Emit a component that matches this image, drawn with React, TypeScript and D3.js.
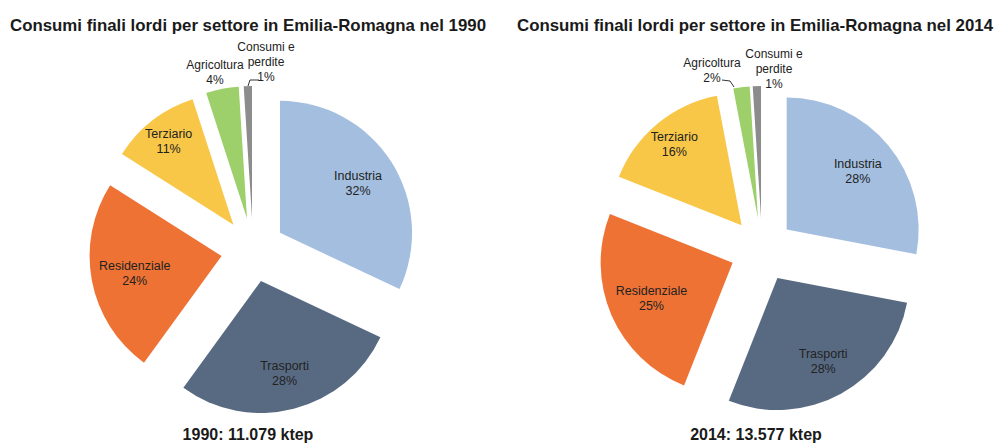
import React, { useEffect, useRef } from "react";
import * as d3 from "d3";

// Sectors and their shares (%) for each year
const sectors = ["Industria", "Trasporti", "Residenziale", "Terziario", "Agricoltura", "Consumi e perdite"];
const shares1990 = [32, 28, 24, 11, 4, 1];
const shares2014 = [28, 28, 25, 16, 2, 1];
const titles = [
  "Consumi finali lordi per settore in Emilia-Romagna nel 1990",
  "Consumi finali lordi per settore in Emilia-Romagna nel 2014",
];
const totals = ["1990: 11.079 ktep", "2014: 13.577 ktep"];
const colors = ["#A3BEDF", "#586A82", "#EE7234", "#F9C747", "#9DCF6B", "#8C8C8C"];

const FONT = "'Liberation Sans', Arial, sans-serif";

const App = () => {
  const svgRef = useRef<SVGSVGElement>(null);

  useEffect(() => {
    const width = 997;
    const height = 443;
    const radius = 132;
    const explode = 32;
    // label distance (fraction of radius) for the inside labels
    const labelK = [0.7, 0.72, 0.67, 0.8];

    const svg = d3.select(svgRef.current).attr("width", width).attr("height", height);
    svg.selectAll("*").remove();

    const charts = [
      {
        values: shares1990,
        cx: 253,
        cy: 250,
        titleX: 248,
        totalX: 248,
        // outside labels: offsets from the pie center
        agri: { x: -38, y: -185, leader: null as null | number[][] },
        cons: { x: 13, y: -203, leader: [[6, -170], [-3, -170], [-5, -164]] },
      },
      {
        values: shares2014,
        cx: 762,
        cy: 250,
        titleX: 755,
        totalX: 756,
        agri: { x: -50, y: -187, leader: [[-40, -170], [-32, -169], [-28, -163]] },
        cons: { x: 12, y: -196, leader: null as null | number[][] },
      },
    ];

    const pie = d3
      .pie<number>()
      .sort(null)
      .value((d) => d);

    const arc = d3.arc<d3.PieArcDatum<number>>().innerRadius(0).outerRadius(radius);

    charts.forEach((c, ci) => {
      // Title
      svg
        .append("text")
        .attr("x", c.titleX)
        .attr("y", 31)
        .attr("text-anchor", "middle")
        .attr("font-family", FONT)
        .attr("font-weight", "bold")
        .attr("font-size", 17)
        .attr("textLength", 476)
        .attr("lengthAdjust", "spacingAndGlyphs")
        .attr("fill", "#1a1a1a")
        .text(titles[ci]);

      const g = svg.append("g").attr("transform", `translate(${c.cx},${c.cy})`);
      const arcs = pie(c.values);

      const slices = g
        .selectAll("g.slice")
        .data(arcs)
        .join("g")
        .attr("class", "slice")
        .attr("transform", (d) => {
          const a = (d.startAngle + d.endAngle) / 2;
          return `translate(${Math.sin(a) * explode},${-Math.cos(a) * explode})`;
        });

      slices
        .append("path")
        .attr("d", arc)
        .attr("fill", (d, i) => colors[i]);

      // Inside labels for the four big slices
      slices
        .filter((d, i) => i < 4)
        .each(function (d, i) {
          const a = (d.startAngle + d.endAngle) / 2;
          const r = radius * labelK[i];
          const t = d3
            .select(this)
            .append("text")
            .attr("text-anchor", "middle")
            .attr("font-family", FONT)
            .attr("font-size", 12.5)
            .attr("fill", "#222");
          const x = Math.sin(a) * r;
          const y = -Math.cos(a) * r;
          t.append("tspan").attr("x", x).attr("y", y - 3).text(sectors[i]);
          t.append("tspan").attr("x", x).attr("y", y + 12).text(`${d.data}%`);
        });

      // Outside labels
      const outside = [
        { idx: 4, cfg: c.agri, lines: ["Agricoltura", `${c.values[4]}%`] },
        { idx: 5, cfg: c.cons, lines: ["Consumi e", "perdite", `${c.values[5]}%`] },
      ];
      outside.forEach(({ cfg, lines }) => {
        const t = g
          .append("text")
          .attr("text-anchor", "middle")
          .attr("font-family", FONT)
          .attr("font-size", 12)
          .attr("fill", "#222");
        lines.forEach((ln, li) => {
          t.append("tspan")
            .attr("x", cfg.x)
            .attr("y", cfg.y + 4 + li * 15)
            .text(ln);
        });
        if (cfg.leader) {
          g.append("path")
            .attr("d", d3.line()(cfg.leader as [number, number][]))
            .attr("fill", "none")
            .attr("stroke", "#333")
            .attr("stroke-width", 1);
        }
      });

      // Total below
      svg
        .append("text")
        .attr("x", c.totalX)
        .attr("y", 440)
        .attr("text-anchor", "middle")
        .attr("font-family", FONT)
        .attr("font-weight", "bold")
        .attr("font-size", 16)
        .attr("fill", "#1a1a1a")
        .text(totals[ci]);
    });
  }, []);

  return (
    <svg
      ref={svgRef}
      style={{ position: "absolute", left: 0, top: 0, background: "#fff" }}
    ></svg>
  );
};

export default App;
